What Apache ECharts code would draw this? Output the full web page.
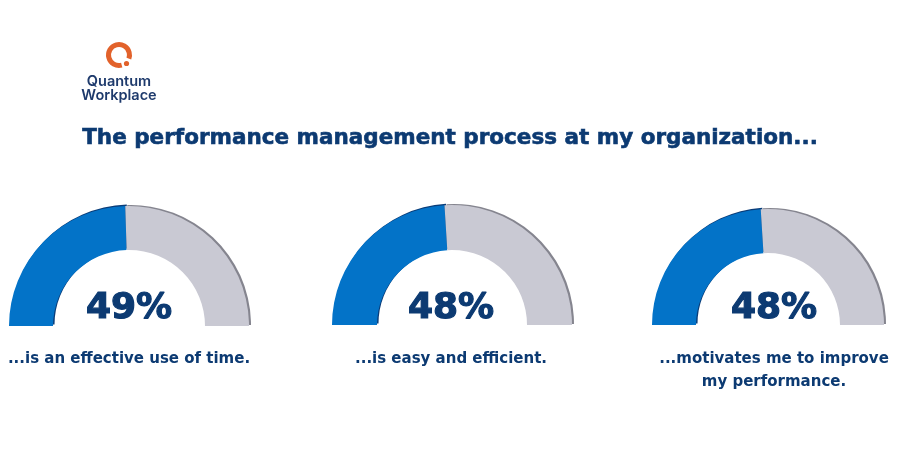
<!DOCTYPE html>
<html><head><meta charset="utf-8">
<script src="https://cdn.jsdelivr.net/npm/echarts@6/dist/echarts.min.js"></script>
<style>html,body{margin:0;padding:0;background:#fff}#c{width:900px;height:450px}</style>
</head><body><div id="c"></div>
<script>
const title = 'The performance management process at my organization...';
const statements = ['...is an effective use of time.', '...is easy and efficient.', '...motivates me to improve\nmy performance.'];
const agreePct = [49, 48, 48];
const restPct = [51, 52, 52];

const NAVY = '#0c3a72';
const BLUE = '#0373c8';
const GRAY = '#c9c9d3';
const FONT = '"DejaVu Sans"';
const layout = [
  {cx: 129, cy: 326, r0: 76, r1: 120, tx: 129},
  {cx: 452, cy: 325, r0: 75, r1: 120, tx: 451},
  {cx: 768, cy: 325, r0: 72, r1: 116, tx: 774}
];

const chart = echarts.init(document.getElementById('c'), null, {renderer: 'canvas'});
const series = layout.map((L, i) => ({
  type: 'pie',
  center: [L.cx, L.cy],
  radius: [L.r0, L.r1],
  startAngle: 180,
  endAngle: 0,
  clockwise: true,
  silent: true,
  label: {show: false},
  labelLine: {show: false},
  data: [
    {value: agreePct[i], itemStyle: {color: BLUE, shadowColor: '#0a3c78', shadowOffsetX: 1.5, shadowOffsetY: -1.5, shadowBlur: 0}},
    {value: restPct[i], itemStyle: {color: GRAY, shadowColor: '#85858f', shadowOffsetX: 2, shadowOffsetY: -1, shadowBlur: 0}}
  ]
}));

const graphics = [
  {type: 'arc', shape: {cx: 119, cy: 55, r: 10.5, startAngle: 75 * Math.PI / 180, endAngle: 380 * Math.PI / 180, clockwise: true},
   style: {stroke: '#e2622b', lineWidth: 5, fill: null}},
  {type: 'circle', shape: {cx: 126.5, cy: 63.5, r: 2.6}, style: {fill: '#e2622b'}},
  {type: 'text', x: 119, y: 82, style: {text: 'Quantum', font: '600 14.5px Inter', fill: '#1e3a6c', textAlign: 'center', textVerticalAlign: 'middle'}},
  {type: 'text', x: 119, y: 96, style: {text: 'Workplace', font: '600 14.5px Inter', fill: '#1e3a6c', textAlign: 'center', textVerticalAlign: 'middle'}},
  {type: 'text', x: 450, y: 138, style: {text: title, font: 'bold 21.5px ' + FONT, fill: NAVY, stroke: NAVY, lineWidth: 0.6, textAlign: 'center', textVerticalAlign: 'middle'}}
];
layout.forEach((L, i) => {
  graphics.push({type: 'text', x: L.tx, y: 309, style: {text: agreePct[i] + '%', font: 'bold 36px ' + FONT, fill: NAVY, stroke: NAVY, lineWidth: 1.2, textAlign: 'center', textVerticalAlign: 'middle'}});
  graphics.push({type: 'text', x: L.tx, y: 348, style: {text: statements[i], font: 'bold 15px ' + FONT, lineHeight: 23, fill: NAVY, textAlign: 'center', textVerticalAlign: 'top'}});
});

chart.setOption({
  backgroundColor: '#fff',
  animation: false,
  series: series,
  graphic: graphics
});
</script></body></html>
